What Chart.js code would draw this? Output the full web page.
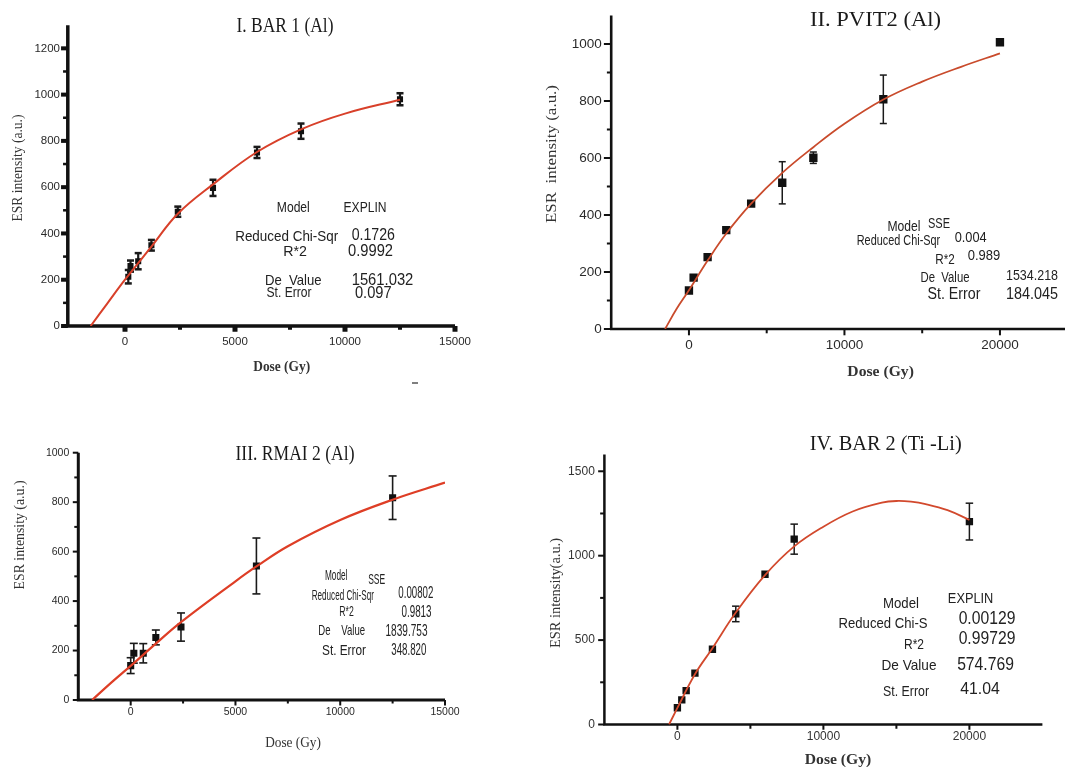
<!DOCTYPE html>
<html>
<head>
<meta charset="utf-8">
<title>ESR dose response curves</title>
<script src="https://cdn.jsdelivr.net/npm/chart.js@4.4.1/dist/chart.umd.min.js"></script>
<style>
  html, body { margin: 0; padding: 0; background: #fff; width: 1065px; height: 767px; overflow: hidden; position: relative; }
  canvas { position: absolute; }
</style>
</head>
<body>
<canvas id="c1" width="530" height="420" style="left:0px;top:-10px"></canvas>
<canvas id="c2" width="570" height="420" style="left:530px;top:-10px"></canvas>
<canvas id="c3" width="530" height="347" style="left:0px;top:420px"></canvas>
<canvas id="c4" width="535" height="347" style="left:530px;top:420px"></canvas>
<script>
// ---------- Panel I: BAR 1 (Al) ----------
const bar1Title = 'I. BAR 1 (Al)';
const bar1Dose = [150, 250, 600, 1200, 2400, 4000, 6000, 8000, 12500];
const bar1Esr = [213, 259, 280, 349, 494, 597, 750, 842, 980];
const bar1Err = [29, 24, 35, 23, 22, 35, 24, 33, 26];
const bar1FitDose = [-1561.032, -800, 0, 1200, 2400, 4000, 6000, 8000, 10000, 12500];
const bar1FitEsr = [0, 98, 200, 343, 485, 612, 752, 850, 918, 978];
const bar1XTicks = [0, 5000, 10000, 15000];
const bar1YTicks = [0, 200, 400, 600, 800, 1000, 1200];
const bar1XMinor = [2500, 7500, 12500];
const bar1YMinor = [100, 300, 500, 700, 900, 1100];
const bar1StatNames = ['Model', 'Reduced Chi-Sqr', 'R*2', 'De  Value', 'St. Error'];
const bar1StatValues = ['EXPLIN', '0.1726', '0.9992', '1561.032', '0.097'];

// ---------- Panel II: PVIT2 (Al) ----------
const pvitTitle = 'II. PVIT2 (Al)';
const pvitDose = [0, 300, 1200, 2400, 4000, 6000, 8000, 12500, 20000];
const pvitEsr = [135, 180, 252, 347, 440, 513, 601, 806, 1006];
const pvitErr = [0, 0, 0, 0, 0, 74, 20, 85, 0];
const pvitFitDose = [-1534.218, -800, 0, 1200, 2400, 4000, 6000, 8000, 10000, 12500, 15000, 17500, 20000];
const pvitFitEsr = [0, 70, 136, 240, 335, 440, 548, 638, 720, 805, 868, 920, 967];
const pvitXTicks = [0, 10000, 20000];
const pvitYTicks = [0, 200, 400, 600, 800, 1000];
const pvitXMinor = [5000, 15000];
const pvitYMinor = [100, 300, 500, 700, 900];
const pvitStatNames = ['Model', 'Reduced Chi-Sqr', 'R*2', 'De  Value', 'St. Error'];
const pvitStatValues = ['SSE', '0.004', '0.989', '1534.218', '184.045'];

// ---------- Panel III: RMAI 2 (Al) ----------
const rmaiTitle = 'III. RMAI 2 (Al)';
const rmaiDose = [0, 150, 600, 1200, 2400, 6000, 12500];
const rmaiEsr = [139, 189, 189, 253, 295, 542, 818];
const rmaiErr = [32, 40, 39, 30, 57, 113, 88];
const rmaiFitDose = [-1839.753, -900, 0, 1200, 2400, 5000, 6000, 7500, 10000, 12500, 15000];
const rmaiFitEsr = [0, 72, 138, 228, 315, 480, 540, 622, 728, 810, 879];
const rmaiXTicks = [0, 5000, 10000, 15000];
const rmaiYTicks = [0, 200, 400, 600, 800, 1000];
const rmaiXMinor = [2500, 7500, 12500];
const rmaiYMinor = [100, 300, 500, 700, 900];
const rmaiStatNames = ['Model', 'Reduced Chi-Sqr', 'R*2', 'De    Value', 'St. Error'];
const rmaiStatValues = ['SSE', '0.00802', '0.9813', '1839.753', '348.820'];

// ---------- Panel IV: BAR 2 (Ti-Li) ----------
const bar2Title = 'IV. BAR 2 (Ti -Li)';
const bar2Dose = [0, 300, 600, 1200, 2400, 4000, 6000, 8000, 20000];
const bar2Esr = [99, 146, 201, 304, 446, 655, 890, 1098, 1202];
const bar2Err = [0, 0, 0, 0, 0, 46, 0, 89, 109];
const bar2FitDose = [-574.769, 0, 1200, 2400, 4000, 6000, 8000, 10000, 12000, 14000, 15000, 16000, 17000, 18500, 20000];
const bar2FitEsr = [0, 98, 298, 452, 663, 885, 1055, 1172, 1262, 1314, 1324, 1320, 1306, 1270, 1212];
const bar2XTicks = [0, 10000, 20000];
const bar2YTicks = [0, 500, 1000, 1500];
const bar2XMinor = [5000, 15000];
const bar2YMinor = [250, 750, 1250];
const bar2StatNames = ['Model', 'Reduced Chi-S', 'R*2', 'De Value', 'St. Error'];
const bar2StatValues = ['EXPLIN', '0.00129', '0.99729', '574.769', '41.04'];

const doseLabel = 'Dose (Gy)';
const esrLabel = 'ESR intensity (a.u.)';
const esrLabelWide = 'ESR  intensity (a.u.)';
const esrLabelTight = 'ESR intensity(a.u.)';

const SANS = "'Liberation Sans', Arial, sans-serif";
const SERIF = "'Liberation Serif', 'Times New Roman', serif";
Chart.defaults.font.family = SANS;

// Draw text centred on (x, y), squeezed/stretched horizontally to a given width.
function fitText(ctx, text, x, y, size, width, family, weight, color, rotate) {
  ctx.save();
  ctx.font = (weight || 'normal') + ' ' + size + 'px ' + family;
  ctx.fillStyle = color;
  ctx.textAlign = 'center';
  ctx.textBaseline = 'middle';
  const natural = ctx.measureText(text).width;
  ctx.translate(x, y);
  if (rotate) ctx.rotate(-Math.PI / 2);
  if (width) ctx.scale(width / natural, 1);
  ctx.fillText(text, 0, 0);
  ctx.restore();
}

const panels = [
  {
    id: 'c1', box: { x: 0, y: -10, w: 530, h: 420 },
    area: { left: 67.8, top: 25.2, right: 455, bottom: 326 },
    xRange: [-2600, 15000], yRange: [0, 1300],
    dose: bar1Dose, esr: bar1Esr, err: bar1Err, fitDose: bar1FitDose, fitEsr: bar1FitEsr,
    xTicks: bar1XTicks, yTicks: bar1YTicks, xMinor: bar1XMinor, yMinor: bar1YMinor,
    tickSize: 11.5, padX: 9, padY: 7.8, tickColor: '#2a2a2a',
    axis: { width: 3.5, xMajor: [5, 4], xMinorT: [4, 2], yMajor: [4, 5], yMinorT: [2.5, 3] },
    marker: 4.3, curve: { color: '#d8402a', width: 2 },
    bars: { width: 2.2, cap: 7, capT: 2.5 },
    title: [bar1Title, 285, 27, 20, 97],
    yTitle: [esrLabel, 18, 168, 14, 107],
    xTitle: [doseLabel, 281.7, 367.7, 14, 57, 'bold'],
    names: bar1StatNames, values: bar1StatValues,
    nameAt: [[293.3, 208.3, 14, 33], [286.7, 236.5, 14.5, 103], [295, 252.3, 15, 23.7], [293.3, 280.7, 14.5, 56.7], [289, 292.7, 14, 45]],
    valueAt: [[365, 208, 14, 43], [373.3, 235.7, 16.5, 43.3], [370.5, 251.7, 16.5, 45], [382.5, 280, 16.5, 61.7], [373.3, 293.3, 16.5, 36.7]],
    dash: [412, 383, 418]
  },
  {
    id: 'c2', box: { x: 530, y: -10, w: 570, h: 420 },
    area: { left: 611.2, top: 15.5, right: 1077.7, bottom: 329 },
    xRange: [-5000, 25000], yRange: [0, 1100],
    dose: pvitDose, esr: pvitEsr, err: pvitErr, fitDose: pvitFitDose, fitEsr: pvitFitEsr,
    xTicks: pvitXTicks, yTicks: pvitYTicks, xMinor: pvitXMinor, yMinor: pvitYMinor,
    tickSize: 13.5, padX: 8, padY: 9.5, tickColor: '#2a2a2a',
    axis: { width: 2.6, xMajor: [2, 5], xMinorT: [2, 3], yMajor: [2, 6], yMinorT: [2, 3] },
    marker: 5.9, curve: { color: '#c94b2c', width: 1.8 },
    bars: { width: 1.5, cap: 7, capT: 1.5 },
    title: [pvitTitle, 875.5, 20.5, 22, 131],
    yTitle: [esrLabelWide, 552.2, 154, 15.5, 138],
    xTitle: [doseLabel, 880.6, 371.7, 15.5, 66.5, 'bold'],
    names: pvitStatNames, values: pvitStatValues,
    nameAt: [[904, 226.5, 15, 33], [898.5, 241, 15, 83.5], [945, 259.5, 15, 19.5], [945, 278, 14, 49], [954, 295, 16, 53]],
    valueAt: [[939, 224, 14, 22], [970.7, 237.5, 15.5, 32], [984, 256, 15, 32.5], [1032, 275.5, 15.5, 52], [1032, 294, 17, 52]]
  },
  {
    id: 'c3', box: { x: 0, y: 420, w: 530, h: 347 },
    area: { left: 78.3, top: 452.7, right: 445, bottom: 700 },
    xRange: [-2500, 15000], yRange: [0, 1000],
    dose: rmaiDose, esr: rmaiEsr, err: rmaiErr, fitDose: rmaiFitDose, fitEsr: rmaiFitEsr,
    xTicks: rmaiXTicks, yTicks: rmaiYTicks, xMinor: rmaiXMinor, yMinor: rmaiYMinor,
    tickSize: 10.5, padX: 6, padY: 9, tickColor: '#2a2a2a',
    axis: { width: 3, xMajor: [2, 4], xMinorT: [2, 2], yMajor: [2, 4], yMinorT: [2, 2.5] },
    marker: 5, curve: { color: '#de3e26', width: 2.2 },
    bars: { width: 1.6, cap: 8, capT: 1.6 },
    title: [rmaiTitle, 295, 454, 21, 119],
    yTitle: [esrLabel, 20, 535, 14, 109],
    xTitle: [doseLabel, 293, 743.3, 15, 55.7],
    names: rmaiStatNames, values: rmaiStatValues,
    nameAt: [[336.2, 576, 15, 22.5], [342.8, 595.5, 15, 62.3], [346.5, 612, 15, 14.5], [341.7, 631, 15, 46.7], [344, 651, 15, 44]],
    valueAt: [[376.7, 580, 14.5, 17], [415.8, 594, 16, 35], [416.5, 612.5, 16, 30], [406.5, 632, 16, 42], [408.8, 650.5, 16, 35]]
  },
  {
    id: 'c4', box: { x: 530, y: 420, w: 535, h: 347 },
    area: { left: 604.4, top: 454.4, right: 1042.4, bottom: 724.5 },
    xRange: [-5000, 25000], yRange: [0, 1600],
    dose: bar2Dose, esr: bar2Esr, err: bar2Err, fitDose: bar2FitDose, fitEsr: bar2FitEsr,
    xTicks: bar2XTicks, yTicks: bar2YTicks, xMinor: bar2XMinor, yMinor: bar2YMinor,
    tickSize: 12, padX: 5, padY: 9.6, tickColor: '#333',
    axis: { width: 2.5, xMajor: [2, 4], xMinorT: [2, 3], yMajor: [2, 5], yMinorT: [2, 3] },
    marker: 5.2, curve: { color: '#d2492d', width: 1.8 },
    bars: { width: 1.5, cap: 7.5, capT: 1.5 },
    title: [bar2Title, 885.7, 444, 21, 152],
    yTitle: [esrLabelTight, 556.3, 593, 14.5, 110],
    xTitle: [doseLabel, 838, 760, 15.5, 66.5, 'bold'],
    names: bar2StatNames, values: bar2StatValues,
    nameAt: [[901, 604, 14, 36], [883, 624, 15.4, 89], [914, 645, 15.4, 20], [909, 666, 15, 55], [906, 691.5, 15, 46]],
    valueAt: [[970.6, 598.5, 15, 45.5], [987, 619, 18, 56.7], [987, 639, 18, 56.7], [985.5, 665.5, 17.5, 56.7], [980, 689.3, 17, 39.5]]
  }
];

// Axis lines, tick marks, error bars and annotation text for one panel.
function decorPlugin(p) {
  return {
    id: 'decor',
    beforeDatasetsDraw(chart) {
      const { ctx, chartArea: a, scales: { x, y } } = chart;
      const ax = p.axis, half = ax.width / 2;
      ctx.save();
      ctx.fillStyle = '#111';
      ctx.strokeStyle = '#111';
      ctx.lineWidth = ax.width;
      ctx.beginPath();
      ctx.moveTo(a.left, a.top);
      ctx.lineTo(a.left, a.bottom + half);
      ctx.moveTo(a.left - half, a.bottom);
      ctx.lineTo(a.right, a.bottom);
      ctx.stroke();
      const xMark = (vals, spec) => vals.forEach(v => {
        const px = x.getPixelForValue(v);
        ctx.fillRect(px - spec[0] / 2, a.bottom, spec[0], half + spec[1]);
      });
      const yMark = (vals, spec) => vals.forEach(v => {
        const py = y.getPixelForValue(v);
        ctx.fillRect(a.left - half - spec[1], py - spec[0] / 2, half + spec[1], spec[0]);
      });
      xMark(p.xTicks, ax.xMajor);
      xMark(p.xMinor, ax.xMinorT);
      yMark(p.yTicks, ax.yMajor);
      yMark(p.yMinor, ax.yMinorT);

      // error bars
      ctx.strokeStyle = '#1a1a1a';
      ctx.fillStyle = '#1a1a1a';
      ctx.lineWidth = p.bars.width;
      p.dose.forEach((d, i) => {
        const e = p.err[i];
        if (!e) return;
        const px = x.getPixelForValue(d);
        const top = y.getPixelForValue(p.esr[i] + e);
        const bot = y.getPixelForValue(p.esr[i] - e);
        ctx.beginPath();
        ctx.moveTo(px, top);
        ctx.lineTo(px, bot);
        ctx.stroke();
        ctx.fillRect(px - p.bars.cap / 2, top - p.bars.capT / 2, p.bars.cap, p.bars.capT);
        ctx.fillRect(px - p.bars.cap / 2, bot - p.bars.capT / 2, p.bars.cap, p.bars.capT);
      });
      ctx.restore();
    },
    afterDraw(chart) {
      const ctx = chart.ctx, ox = p.box.x, oy = p.box.y;
      const t = p.title, yt = p.yTitle, xt = p.xTitle;
      fitText(ctx, t[0], t[1] - ox, t[2] - oy, t[3], t[4], SERIF, 'normal', '#1a1a1a');
      fitText(ctx, yt[0], yt[1] - ox, yt[2] - oy, yt[3], yt[4], SERIF, 'normal', '#333', true);
      fitText(ctx, xt[0], xt[1] - ox, xt[2] - oy, xt[3], xt[4], SERIF, xt[5] || 'normal', '#333');
      p.names.forEach((name, i) => {
        const at = p.nameAt[i];
        fitText(ctx, name, at[0] - ox, at[1] - oy, at[2], at[3], SANS, 'normal', '#222');
      });
      p.values.forEach((val, i) => {
        const at = p.valueAt[i];
        fitText(ctx, val, at[0] - ox, at[1] - oy, at[2], at[3], SANS, 'normal', '#222');
      });
      if (p.dash) {
        ctx.save();
        ctx.strokeStyle = '#555';
        ctx.lineWidth = 1.5;
        ctx.beginPath();
        ctx.moveTo(p.dash[0] - ox, p.dash[1] - oy);
        ctx.lineTo(p.dash[2] - ox, p.dash[1] - oy);
        ctx.stroke();
        ctx.restore();
      }
    }
  };
}

panels.forEach(p => {
  const b = p.box, a = p.area;
  const points = p.dose.map((d, i) => ({ x: d, y: p.esr[i] }));
  const fit = p.fitDose.map((d, i) => ({ x: d, y: p.fitEsr[i] }));
  new Chart(document.getElementById(p.id), {
    type: 'scatter',
    data: {
      datasets: [
        {
          data: fit, showLine: true, borderColor: p.curve.color, borderWidth: p.curve.width,
          pointRadius: 0, tension: 0.4, fill: false, order: 0
        },
        {
          data: points, pointStyle: 'rect', pointRadius: p.marker,
          backgroundColor: '#111', borderColor: '#111', borderWidth: 0, order: 1
        }
      ]
    },
    options: {
      responsive: false, animation: false, devicePixelRatio: 1, events: [],
      layout: { padding: { left: 0, bottom: 0, top: a.top - b.y, right: b.x + b.w - a.right } },
      plugins: { legend: { display: false }, tooltip: { enabled: false } },
      scales: {
        x: {
          type: 'linear', min: p.xRange[0], max: p.xRange[1],
          grid: { display: false, drawTicks: false }, border: { display: false },
          ticks: { autoSkip: false, maxRotation: 0, padding: p.padX, color: p.tickColor,
                   font: { size: p.tickSize, family: SANS }, callback: v => String(v) },
          afterBuildTicks: s => { s.ticks = p.xTicks.map(v => ({ value: v })); },
          afterFit: s => { s.height = b.y + b.h - a.bottom; }
        },
        y: {
          type: 'linear', min: p.yRange[0], max: p.yRange[1],
          grid: { display: false, drawTicks: false }, border: { display: false },
          ticks: { autoSkip: false, padding: p.padY, color: p.tickColor,
                   font: { size: p.tickSize, family: SANS }, callback: v => String(v) },
          afterBuildTicks: s => { s.ticks = p.yTicks.map(v => ({ value: v })); },
          afterFit: s => { s.width = a.left - b.x; }
        }
      }
    },
    plugins: [decorPlugin(p)]
  });
});
</script>
</body>
</html>
